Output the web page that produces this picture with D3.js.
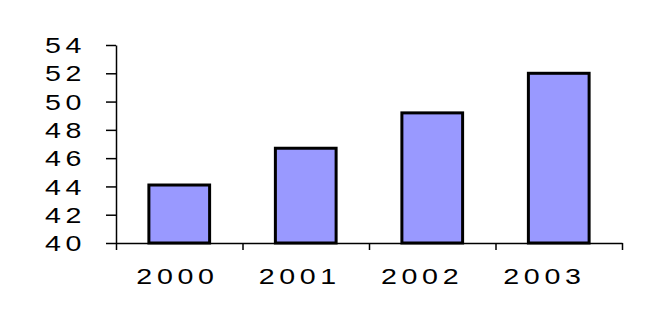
<!DOCTYPE html>
<html>
<head>
<meta charset="utf-8">
<script src="https://cdn.jsdelivr.net/npm/d3@7"></script>
<style>
  html, body { margin: 0; padding: 0; background: #fff; }
  svg { display: block; }
  text { font-family: "Liberation Sans", Arial, sans-serif; }
</style>
</head>
<body>
<svg id="chart" width="665" height="324"></svg>
<script>
const categories = ["2000", "2001", "2002", "2003"];
const values = [44.1, 46.7, 49.2, 52.0];
const yTicks = [40, 42, 44, 46, 48, 50, 52, 54];

const svg = d3.select("#chart");
svg.append("rect").attr("width", 665).attr("height", 324).attr("fill", "#fff");

const plotLeft = 116, plotRight = 622, plotTop = 45, plotBottom = 243;
const sx = 1.3;        // horizontal stretch of the glyphs
const fontSize = 22;
const ls = 3.6;        // letter spacing

const x = d3.scaleBand().domain(categories).range([plotLeft, plotRight]).padding(0);
const xEdges = d3.scaleLinear().domain([0, categories.length]).range([plotLeft, plotRight]);
const xLabels = d3.scaleBand().domain(categories).range([114, 603.2]).padding(0);
const y = d3.scaleLinear().domain([40, 54]).range([plotBottom, plotTop]);

// bars
const barW = x.bandwidth() * 0.48;
svg.append("g").selectAll("rect")
  .data(categories)
  .join("rect")
  .attr("x", (d) => x(d) + (x.bandwidth() - barW) / 2)
  .attr("width", barW)
  .attr("y", (d, i) => y(values[i]))
  .attr("height", (d, i) => y(40) - y(values[i]))
  .attr("fill", "#9999FF")
  .attr("stroke", "#000")
  .attr("stroke-width", 3);

// y axis
const gy = svg.append("g")
  .attr("transform", `translate(${plotLeft},0)`)
  .call(d3.axisLeft(y).tickValues(yTicks).tickSize(10).tickSizeOuter(0).tickFormat(d3.format("d")));
gy.select(".domain").attr("stroke", "#000").attr("stroke-width", 1.5);
gy.selectAll(".tick line").attr("stroke", "#000").attr("stroke-width", 1.5);
gy.selectAll(".tick text")
  .attr("x", 0).attr("dy", 7.7)
  .attr("text-anchor", "start")
  .attr("transform", `translate(${45 - plotLeft},0) scale(${sx},1)`)
  .attr("font-family", "'Liberation Sans', Arial, sans-serif")
  .attr("font-size", fontSize)
  .attr("letter-spacing", ls)
  .attr("fill", "#000");

// x axis line with ticks at category boundaries
const gxLine = svg.append("g")
  .attr("transform", `translate(0,${plotBottom})`)
  .call(d3.axisBottom(xEdges).tickValues(d3.range(categories.length + 1)).tickSize(7).tickSizeOuter(0).tickFormat(""));
gxLine.select(".domain").attr("stroke", "#000").attr("stroke-width", 1.5);
gxLine.selectAll(".tick line").attr("stroke", "#000").attr("stroke-width", 1.5);

// x axis labels
const gx = svg.append("g")
  .attr("transform", `translate(0,${plotBottom})`)
  .call(d3.axisBottom(xLabels).tickSize(0));
gx.select(".domain").remove();
gx.selectAll(".tick text")
  .attr("y", 0).attr("dy", 0)
  .attr("text-anchor", "middle")
  .attr("transform", `translate(${ls * sx / 2},41.3) scale(${sx},1)`)
  .attr("font-family", "'Liberation Sans', Arial, sans-serif")
  .attr("font-size", fontSize)
  .attr("letter-spacing", ls)
  .attr("fill", "#000");
</script>
</body>
</html>
